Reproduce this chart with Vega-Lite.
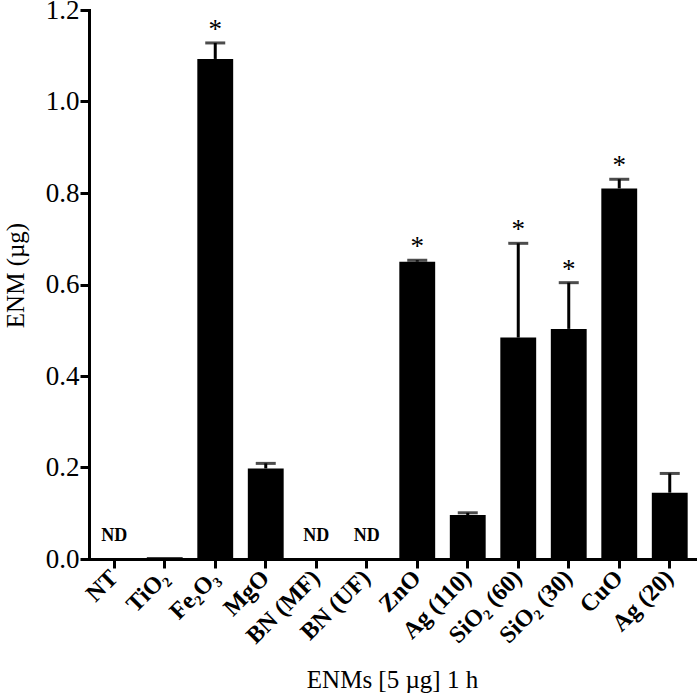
{
  "$schema": "https://vega.github.io/schema/vega-lite/v6.json",
  "autosize": {"type": "none"},
  "width": 606,
  "height": 549,
  "padding": {"left": 89, "top": 10, "right": 5, "bottom": 138},
  "background": "white",
  "config": {"view": {"stroke": null}, "font": "Liberation Serif"},
  "data": {"values": [
    {"label": "NT", "value": 0, "hi": null, "star": false, "nd": true},
    {"label": "TiO₂", "value": 0.004, "hi": null, "star": false, "nd": false},
    {"label": "Fe₂O₃", "value": 1.093, "hi": 1.128, "star": true, "nd": false},
    {"label": "MgO", "value": 0.198, "hi": 0.209, "star": false, "nd": false},
    {"label": "BN (MF)", "value": 0, "hi": null, "star": false, "nd": true},
    {"label": "BN (UF)", "value": 0, "hi": null, "star": false, "nd": true},
    {"label": "ZnO", "value": 0.650, "hi": 0.653, "star": true, "nd": false},
    {"label": "Ag (110)", "value": 0.096, "hi": 0.101, "star": false, "nd": false},
    {"label": "SiO₂ (60)", "value": 0.484, "hi": 0.690, "star": true, "nd": false},
    {"label": "SiO₂ (30)", "value": 0.503, "hi": 0.604, "star": true, "nd": false},
    {"label": "CuO", "value": 0.810, "hi": 0.830, "star": true, "nd": false},
    {"label": "Ag (20)", "value": 0.145, "hi": 0.187, "star": false, "nd": false}
  ]},
  "encoding": {
    "x": {
      "field": "label", "type": "nominal", "sort": null,
      "scale": {"paddingInner": 0.29, "paddingOuter": 0.145},
      "axis": {
        "title": "ENMs [5 µg] 1 h",
        "titleFont": "Liberation Serif", "titleFontSize": 25, "titleFontWeight": "normal", "titleColor": "black",
        "titleY": 128, "titleBaseline": "alphabetic",
        "labelAngle": -45, "labelAlign": "right", "labelBaseline": "middle",
        "labelFont": "Liberation Serif", "labelFontSize": 24, "labelFontWeight": "bold", "labelColor": "black",
        "labelPadding": 6,
        "tickSize": 9, "tickWidth": 3, "tickColor": "black",
        "domainWidth": 3, "domainColor": "black", "domainCap": "square"
      }
    }
  },
  "layer": [
    {
      "mark": {"type": "bar", "color": "black"},
      "encoding": {
        "y": {
          "field": "value", "type": "quantitative",
          "scale": {"domain": [0, 1.2], "nice": false},
          "axis": {
            "title": "ENM (µg)",
            "titleFont": "Liberation Serif", "titleFontSize": 25, "titleFontWeight": "normal", "titleColor": "black",
            "titleX": -66, "titleY": 265, "titleBaseline": "alphabetic",
            "values": [0, 0.2, 0.4, 0.6, 0.8, 1.0, 1.2], "format": ".1f",
            "labelFont": "Liberation Serif", "labelFontSize": 27, "labelColor": "black", "labelPadding": 1,
            "tickSize": 9, "tickWidth": 3, "tickColor": "black",
            "domainWidth": 3, "domainColor": "black", "domainCap": "square",
            "grid": false
          }
        }
      }
    },
    {
      "transform": [{"filter": "datum.hi != null"}],
      "mark": {"type": "rule", "color": "black", "strokeWidth": 3},
      "encoding": {"y": {"field": "value", "type": "quantitative"}, "y2": {"field": "hi"}}
    },
    {
      "transform": [{"filter": "datum.hi != null"}],
      "mark": {"type": "tick", "color": "black", "size": 20, "thickness": 3},
      "encoding": {"y": {"field": "hi", "type": "quantitative"}}
    },
    {
      "transform": [{"filter": "datum.star"}],
      "mark": {"type": "text", "text": "*", "font": "Liberation Serif", "fontSize": 27, "baseline": "alphabetic", "dy": -5, "color": "black"},
      "encoding": {"y": {"field": "hi", "type": "quantitative"}}
    },
    {
      "transform": [{"filter": "datum.nd"}],
      "mark": {"type": "text", "text": "ND", "font": "Liberation Serif", "fontSize": 18, "fontWeight": "bold", "baseline": "middle", "dy": -23, "color": "black"},
      "encoding": {"y": {"field": "value", "type": "quantitative"}}
    }
  ]
}
